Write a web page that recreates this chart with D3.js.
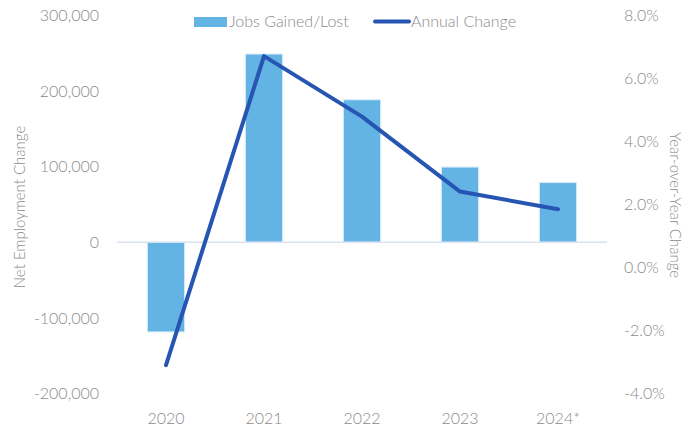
<!DOCTYPE html>
<html>
<head>
<meta charset="utf-8">
<script src="https://cdn.jsdelivr.net/npm/d3@7"></script>
<style>
  html, body { margin: 0; padding: 0; background: #fff; }
  svg { display: block; }
  text { font-family: Lato, "Noto Sans", sans-serif; font-weight: 300; fill: #8a8a8a; }
</style>
</head>
<body>
<svg id="chart" width="684" height="428"></svg>
<script>
// Net employment change by year, with the year-over-year growth rate
const years = ["2020", "2021", "2022", "2023", "2024*"];
const jobsGainedLost = [-118500, 249000, 188500, 99500, 79000];
const annualChange = [-0.031, 0.0671, 0.0479, 0.0241, 0.0185];
const leftTicks = [-200000, -100000, 0, 100000, 200000, 300000];
const rightTicks = [-0.04, -0.02, 0, 0.02, 0.04, 0.06, 0.08];

const svg = d3.select("#chart");

const x = d3.scaleBand()
  .domain(years)
  .range([117, 607])
  .paddingInner(0.62)
  .paddingOuter(0.31);

const yLeft = d3.scaleLinear().domain([-200000, 300000]).range([393.5, 15.5]);
const yRight = d3.scaleLinear().domain([-0.04, 0.08]).range([393.5, 15.5]);

// Bars
svg.append("g")
  .selectAll("rect")
  .data(years.map((y, i) => ({ year: y, v: jobsGainedLost[i] })))
  .join("rect")
  .attr("x", d => x(d.year))
  .attr("width", x.bandwidth())
  .attr("y", d => yLeft(Math.max(0, d.v)))
  .attr("height", d => Math.abs(yLeft(d.v) - yLeft(0)))
  .attr("fill", "#63b4e4")
  .attr("stroke", "#d4ebf8")
  .attr("stroke-width", 1);

// Zero baseline
svg.append("line")
  .attr("x1", 117).attr("x2", 607)
  .attr("y1", yLeft(0)).attr("y2", yLeft(0))
  .attr("stroke", "#d9e2f0")
  .attr("stroke-width", 1.5);

// Annual change line
const line = d3.line()
  .x((d, i) => x(years[i]) + x.bandwidth() / 2)
  .y(d => yRight(d));

svg.append("path")
  .datum(annualChange)
  .attr("d", line)
  .attr("fill", "none")
  .attr("stroke", "#2656b2")
  .attr("stroke-width", 4)
  .attr("stroke-linejoin", "round")
  .attr("stroke-linecap", "round");

// Left axis
const fmtK = d3.format(",");
const leftAxis = d3.axisLeft(yLeft).tickValues(leftTicks).tickSize(0).tickPadding(0)
  .tickFormat(d => fmtK(d).replace("−", "-"));
const gL = svg.append("g").attr("transform", "translate(99,0)").call(leftAxis);
gL.select(".domain").remove();
gL.selectAll("text").style("font-size", "16px").attr("fill", "#8a8a8a")
  .style("font-family", "Lato, 'Noto Sans', sans-serif");

// Right axis
const rightAxis = d3.axisRight(yRight).tickValues(rightTicks).tickSize(0).tickPadding(0)
  .tickFormat(d => d3.format(".1%")(d).replace("−", "-"));
const gR = svg.append("g").attr("transform", "translate(624,0)").call(rightAxis);
gR.select(".domain").remove();
gR.selectAll("text").style("font-size", "16px").attr("fill", "#8a8a8a")
  .style("font-family", "Lato, 'Noto Sans', sans-serif");

// Bottom axis
const bottomAxis = d3.axisBottom(x).tickSize(0).tickPadding(0);
const gB = svg.append("g").attr("transform", "translate(0,413)").call(bottomAxis);
gB.select(".domain").remove();
gB.selectAll("text").style("font-size", "16px").attr("fill", "#8a8a8a")
  .style("font-family", "Lato, 'Noto Sans', sans-serif");

// Axis titles
svg.append("text")
  .attr("transform", "translate(25,207) rotate(-90)")
  .attr("text-anchor", "middle")
  .style("font-size", "15px")
  .text("Net Employment Change");

svg.append("text")
  .attr("transform", "translate(670,205) rotate(90)")
  .attr("text-anchor", "middle")
  .style("font-size", "15px")
  .text("Year-over-Year Change");

// Legend
const legend = svg.append("g");
legend.append("rect")
  .attr("x", 194).attr("y", 17).attr("width", 33).attr("height", 10)
  .attr("fill", "#63b4e4");
legend.append("text")
  .attr("x", 229).attr("y", 27)
  .style("font-size", "16px")
  .text("Jobs Gained/Lost");
legend.append("line")
  .attr("x1", 375).attr("x2", 409).attr("y1", 21.5).attr("y2", 21.5)
  .attr("stroke", "#2656b2").attr("stroke-width", 4).attr("stroke-linecap", "round");
legend.append("text")
  .attr("x", 411).attr("y", 27)
  .style("font-size", "16px")
  .text("Annual Change");
</script>
</body>
</html>
